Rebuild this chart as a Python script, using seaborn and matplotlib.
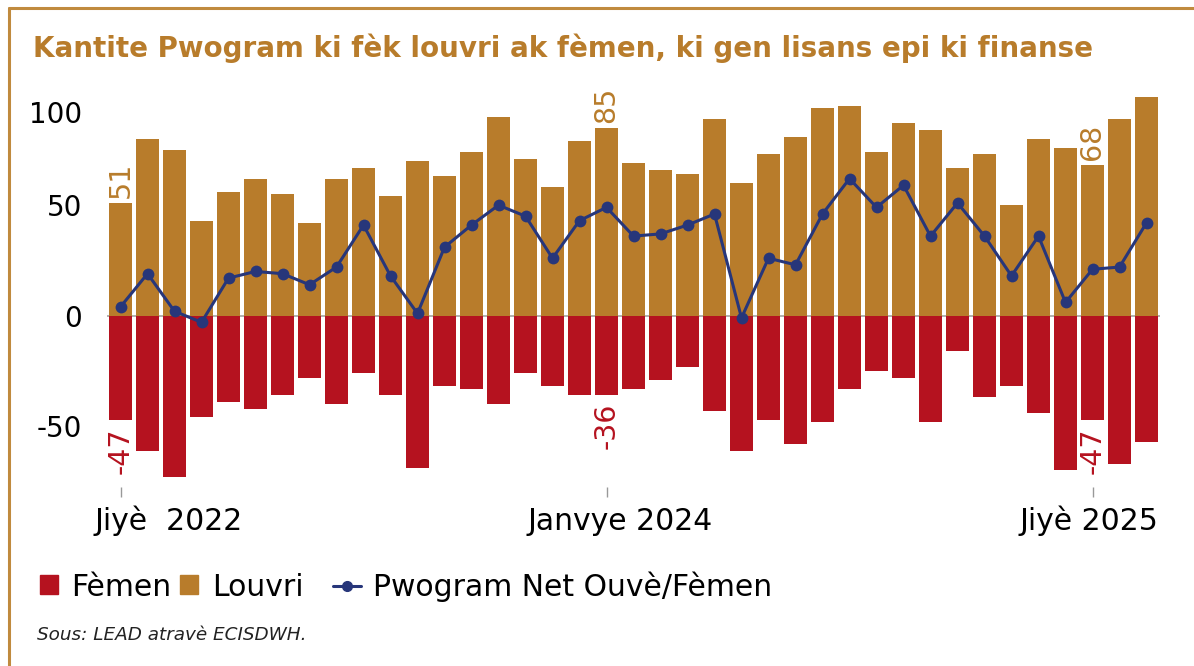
import pandas as pd
import numpy as np
import matplotlib
matplotlib.use('Agg')
import matplotlib.pyplot as plt
import matplotlib.transforms as mtransforms
from matplotlib.patches import Patch
from matplotlib.lines import Line2D
import seaborn as sns

# monthly data, Jul 2022 - Sep 2025
months = pd.date_range('2022-07-01', '2025-09-01', freq='MS').strftime('%Y-%m').tolist()
louvri = [51, 80, 75, 43, 56, 62, 55, 42, 62, 67, 54, 70, 63,
          74, 90, 71, 58, 79, 85, 69, 66, 64, 89, 60, 73, 81,
          94, 95, 74, 87, 84, 67, 73, 50, 80, 76, 68, 89, 99]
femen = [-47, -61, -73, -46, -39, -42, -36, -28, -40, -26, -36, -69, -32,
         -33, -40, -26, -32, -36, -36, -33, -29, -23, -43, -61, -47, -58,
         -48, -33, -25, -28, -48, -16, -37, -32, -44, -70, -47, -67, -57]
net = [4, 19, 2, -3, 17, 20, 19, 14, 22, 41, 18, 1, 31,
       41, 50, 45, 26, 43, 49, 36, 37, 41, 46, -1, 26, 23,
       46, 62, 49, 59, 36, 51, 36, 18, 36, 6, 21, 22, 42]

tick_pos = [0, 18, 36]
tick_labels = ['Jiyè  2022', 'Janvye 2024', 'Jiyè 2025']
# labelled bars
callouts = [0, 18, 36]

df = pd.DataFrame({'month': months, 'louvri': louvri, 'femen': femen, 'net': net})

c_louvri = '#B87C2B'
c_femen = '#B5121F'
c_net = '#27367A'

sns.set_style('white')
plt.rcParams['font.family'] = ['DejaVu Sans']
plt.rcParams['text.color'] = 'black'
plt.rcParams['ytick.color'] = 'black'
plt.rcParams['ytick.labelcolor'] = 'black'

fig = plt.figure(figsize=(11.94, 6.66), dpi=100)
ax = fig.add_axes([107 / 1194, 1 - 487 / 666, 1053 / 1194, 399 / 666])

ax.axhline(0, color='#AAAAAA', lw=1.3, zorder=0)
sns.barplot(data=df, x='month', y='louvri', color=c_louvri, saturation=1,
            width=0.88, linewidth=0, ax=ax, zorder=2)
sns.barplot(data=df, x='month', y='femen', color=c_femen, saturation=1,
            width=0.88, linewidth=0, ax=ax, zorder=2)
sns.lineplot(x=np.arange(len(df)), y=df['net'], color=c_net, lw=2.2,
             marker='o', markersize=8.5, markeredgewidth=0, ax=ax, zorder=3)

ax.set_xlim(-0.5, len(df) - 0.5)
ax.set_ylim(-77.5, 103)
ax.set_xlabel('')
ax.set_ylabel('')
for s in ax.spines.values():
    s.set_visible(False)

ax.set_xticks(tick_pos)
ax.set_xticklabels([''] * len(tick_pos))
ax.tick_params(axis='x', direction='out', length=7.5, width=1, color='#999999', bottom=True)
ax.set_yticks([-50, 0, 50, 100])
ax.set_yticklabels(['-50', '0', '50', '100'], fontsize=20)
ax.tick_params(axis='y', length=0, pad=18)
# the 100 label sits a bit lower in the original
lab100 = ax.get_yticklabels()[-1]
lab100.set_transform(lab100.get_transform() + mtransforms.ScaledTranslation(0, -0.17, fig.dpi_scale_trans))

# x labels, placed like the original
trans = mtransforms.blended_transform_factory(ax.transData, fig.transFigure)
ax.text(-0.95, 1 - 521 / 666, tick_labels[0], transform=trans, ha='left', va='center', fontsize=21.5)
ax.text(18.5, 1 - 521 / 666, tick_labels[1], transform=trans, ha='center', va='center', fontsize=21.5)
ax.text(35.85, 1 - 521 / 666, tick_labels[2], transform=trans, ha='center', va='center', fontsize=21.5)

# rotated value callouts
for i in callouts:
    ax.text(i, louvri[i] + 2.3, str(louvri[i]), rotation=90, ha='center', va='bottom',
            fontsize=20.5, color=c_louvri)
    ax.text(i, femen[i] - 3.5, str(femen[i]), rotation=90, ha='center', va='top',
            fontsize=20.5, color=c_femen)

fig.text(33 / 1194, 1 - 48 / 666, 'Kantite Pwogram ki fèk louvri ak fèmen, ki gen lisans epi ki finanse',
         ha='left', va='center', fontsize=20, fontweight='bold', color=c_louvri)

fig.legend(handles=[Patch(color=c_femen, label='Fèmen'), Patch(color=c_louvri, label='Louvri')],
           loc='center left', bbox_to_anchor=(40 / 1194, 1 - 587 / 666), ncol=2, frameon=False,
           fontsize=21.5, handlelength=0.6, handleheight=0.6, handletextpad=0.45,
           columnspacing=0.3, borderaxespad=0, borderpad=0)
fig.legend(handles=[Line2D([], [], color=c_net, lw=2.2, marker='o', markersize=7,
                           label='Pwogram Net Ouvè/Fèmen')],
           loc='center left', bbox_to_anchor=(333 / 1194, 1 - 587 / 666), frameon=False,
           fontsize=21.5, handlelength=0.95, handletextpad=0.4, borderaxespad=0, borderpad=0)

fig.text(37 / 1194, 1 - 635 / 666, 'Sous: LEAD atravè ECISDWH.', ha='left', va='center',
         fontsize=13.2, style='italic', color='#222222')

# frame on left and top
bc = '#C08A3E'
fig.add_artist(Line2D([9 / 1194, 9 / 1194], [0, 1 - 8 / 666], color=bc, lw=2.2))
fig.add_artist(Line2D([9 / 1194, 1], [1 - 8 / 666, 1 - 8 / 666], color=bc, lw=2.2))

fig.savefig('out.png', dpi=100)
